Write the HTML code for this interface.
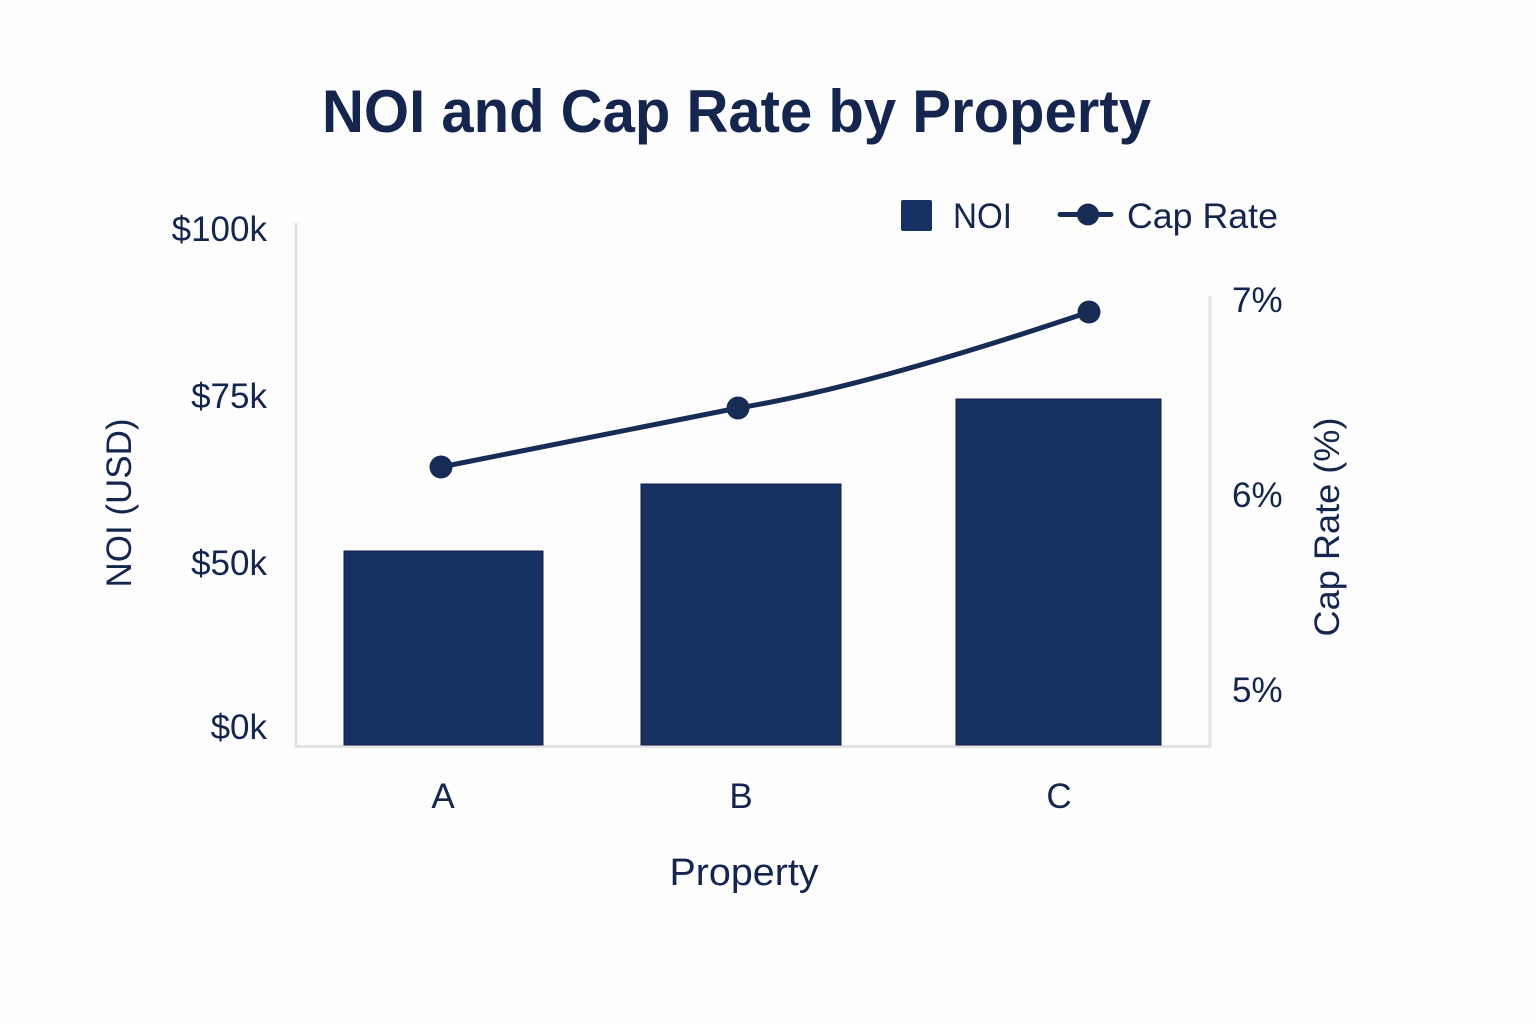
<!DOCTYPE html>
<html>
<head>
<meta charset="utf-8">
<style>
html,body{margin:0;padding:0;background:#fdfdfd;}
svg{display:block;}
text{font-family:"Liberation Sans",Arial,sans-serif;fill:#14264d;}
</style>
</head>
<body>
<svg width="1536" height="1024" viewBox="0 0 1536 1024" xmlns="http://www.w3.org/2000/svg">
<rect x="0" y="0" width="1536" height="1024" fill="#fdfdfd"/>

<!-- Title -->
<text x="322" y="132" font-size="60" font-weight="bold" textLength="829" lengthAdjust="spacingAndGlyphs" fill="#172c55">NOI and Cap Rate by Property</text>

<!-- Axes -->
<line x1="296" y1="223" x2="296" y2="747" stroke="#e2e2e4" stroke-width="3"/>
<line x1="1210" y1="296" x2="1210" y2="747" stroke="#e2e2e4" stroke-width="3"/>
<line x1="295" y1="746.5" x2="1211" y2="746.5" stroke="#e2e2e4" stroke-width="3"/>

<!-- Bars -->
<rect x="344" y="551" width="199" height="194" fill="#183163" stroke="#0f1f47" stroke-width="1"/>
<rect x="641" y="484" width="200" height="261" fill="#183163" stroke="#0f1f47" stroke-width="1"/>
<rect x="956" y="399" width="205" height="346" fill="#183163" stroke="#0f1f47" stroke-width="1"/>

<!-- Cap Rate line -->
<path d="M441 467 L738 408 C850 390 1000 342 1089 312" fill="none" stroke="#172c55" stroke-width="5" stroke-linecap="round" stroke-linejoin="round"/>
<circle cx="441" cy="467" r="11.5" fill="#172c55"/>
<circle cx="738" cy="408" r="11.5" fill="#172c55"/>
<circle cx="1089" cy="312" r="11.5" fill="#172c55"/>

<!-- Left tick labels -->
<text x="267" y="241" font-size="35" text-anchor="end">$100k</text>
<text x="267" y="408" font-size="35" text-anchor="end">$75k</text>
<text x="267" y="575" font-size="35" text-anchor="end">$50k</text>
<text x="267" y="739" font-size="35" text-anchor="end">$0k</text>

<!-- Left axis title -->
<text transform="translate(131,503) rotate(-90)" font-size="35" text-anchor="middle" textLength="169" lengthAdjust="spacingAndGlyphs">NOI (USD)</text>

<!-- Right tick labels -->
<text x="1232" y="312" font-size="35">7%</text>
<text x="1232" y="507" font-size="35">6%</text>
<text x="1232" y="702" font-size="35">5%</text>

<!-- Right axis title -->
<text transform="translate(1339,527) rotate(-90)" font-size="35" text-anchor="middle" textLength="219" lengthAdjust="spacingAndGlyphs">Cap Rate (%)</text>

<!-- X tick labels -->
<text x="443" y="808" font-size="35" text-anchor="middle">A</text>
<text x="741" y="808" font-size="35" text-anchor="middle">B</text>
<text x="1059" y="808" font-size="35" text-anchor="middle">C</text>

<!-- X axis title -->
<text x="744" y="885" font-size="38" text-anchor="middle" textLength="149" lengthAdjust="spacingAndGlyphs">Property</text>

<!-- Legend -->
<rect x="901" y="200" width="31" height="31" rx="2" fill="#183163"/>
<text x="953" y="228" font-size="35" textLength="59" lengthAdjust="spacingAndGlyphs">NOI</text>
<line x1="1060" y1="214.5" x2="1111" y2="214.5" stroke="#172c55" stroke-width="5" stroke-linecap="round"/>
<circle cx="1088" cy="214.5" r="11" fill="#172c55"/>
<text x="1127" y="228" font-size="35" textLength="151" lengthAdjust="spacingAndGlyphs">Cap Rate</text>
</svg>
</body>
</html>
